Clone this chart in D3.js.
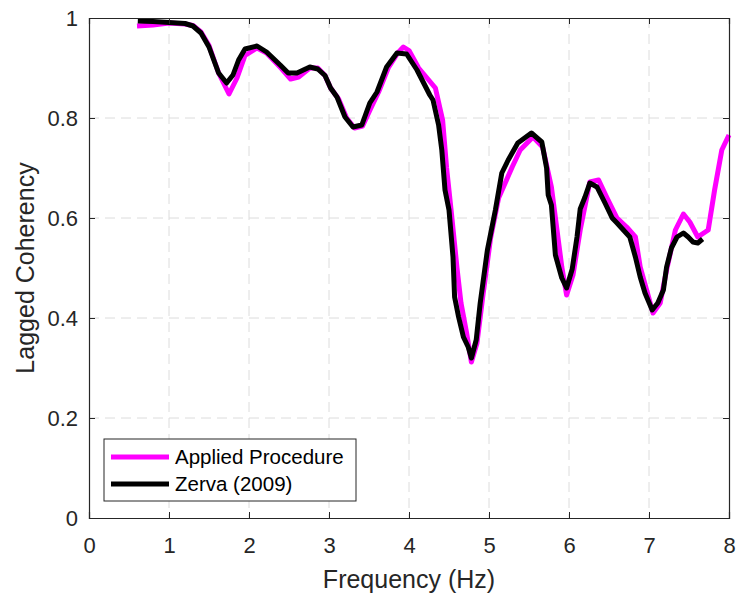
<!DOCTYPE html>
<html>
<head>
<meta charset="utf-8">
<script src="https://cdn.jsdelivr.net/npm/d3@7"></script>
<style>
  body { margin: 0; background: #fff; }
  svg { font-family: "Liberation Sans", Arial, sans-serif; }
</style>
</head>
<body>
<svg id="chart" width="739" height="597"></svg>
<script>
// Applied Procedure (magenta)
const appliedFreq = [0.6, 0.8, 1.0, 1.2, 1.3, 1.4, 1.5, 1.62, 1.75, 1.85, 1.95, 2.1, 2.22, 2.4, 2.52, 2.62, 2.76, 2.86, 2.95, 3.02,
    3.12, 3.22, 3.32, 3.42, 3.53, 3.62, 3.74, 3.86, 3.93, 4.0, 4.12, 4.33, 4.42, 4.47, 4.53, 4.6, 4.65, 4.72, 4.78, 4.85,
    4.92, 5.02, 5.12, 5.29, 5.39, 5.55, 5.67, 5.78, 5.85, 5.91, 5.97, 6.05, 6.14, 6.26, 6.37, 6.47, 6.6, 6.72, 6.83, 6.89,
    6.97, 7.05, 7.14, 7.22, 7.33, 7.43, 7.51, 7.61, 7.74, 7.82, 7.91, 8.0];
const appliedCoh = [0.984, 0.986, 0.99, 0.988, 0.985, 0.972, 0.945, 0.89, 0.848, 0.88, 0.925, 0.94, 0.93, 0.9, 0.878, 0.882, 0.9, 0.9, 0.885, 0.86,
    0.838, 0.8, 0.78, 0.784, 0.822, 0.852, 0.9, 0.93, 0.942, 0.935, 0.9, 0.86, 0.796, 0.7, 0.61, 0.5, 0.43, 0.37, 0.312, 0.35,
    0.44, 0.56, 0.64, 0.702, 0.736, 0.762, 0.742, 0.662, 0.576, 0.502, 0.446, 0.486, 0.576, 0.672, 0.676, 0.642, 0.6, 0.582, 0.562, 0.502,
    0.456, 0.41, 0.43, 0.496, 0.576, 0.608, 0.592, 0.562, 0.576, 0.656, 0.736, 0.766];

// Zerva (2009) (black)
const zervaFreq = [0.61, 0.8, 1.0, 1.2, 1.3, 1.4, 1.5, 1.62, 1.72, 1.8, 1.87, 1.95, 2.1, 2.22, 2.39, 2.49, 2.6, 2.76, 2.86, 2.95,
    3.02, 3.1, 3.2, 3.3, 3.41, 3.51, 3.6, 3.72, 3.85, 3.97, 4.1, 4.26, 4.3, 4.37, 4.41, 4.45, 4.5, 4.55, 4.57, 4.62,
    4.68, 4.74, 4.78, 4.84, 4.89, 4.98, 5.08, 5.16, 5.24, 5.36, 5.53, 5.66, 5.72, 5.74, 5.78, 5.83, 5.91, 5.97, 6.04, 6.1,
    6.14, 6.2, 6.26, 6.35, 6.45, 6.54, 6.6, 6.76, 6.83, 6.89, 6.95, 7.04, 7.11, 7.18, 7.22, 7.28, 7.35, 7.43, 7.49, 7.55,
    7.61, 7.67];
const zervaCoh = [0.994, 0.993, 0.991, 0.989, 0.984, 0.97, 0.942, 0.89, 0.87, 0.886, 0.916, 0.938, 0.944, 0.932, 0.906, 0.89, 0.89, 0.902, 0.898, 0.885,
    0.86, 0.842, 0.802, 0.782, 0.786, 0.83, 0.852, 0.902, 0.93, 0.928, 0.896, 0.846, 0.836, 0.786, 0.736, 0.656, 0.616, 0.522, 0.442, 0.402,
    0.362, 0.342, 0.32, 0.356, 0.43, 0.536, 0.616, 0.69, 0.716, 0.75, 0.77, 0.752, 0.7, 0.646, 0.626, 0.526, 0.48, 0.46, 0.498, 0.562,
    0.618, 0.642, 0.67, 0.662, 0.63, 0.6, 0.59, 0.562, 0.522, 0.482, 0.45, 0.416, 0.43, 0.456, 0.502, 0.54, 0.562, 0.57, 0.562, 0.552,
    0.55, 0.558];

const xTicks = [0, 1, 2, 3, 4, 5, 6, 7, 8];
const yTicks = [0, 0.2, 0.4, 0.6, 0.8, 1];
const seriesNames = ["Applied Procedure", "Zerva (2009)"];
const seriesColors = ["#ff00ff", "#000000"];

const svg = d3.select("#chart");
const margin = {left: 89, top: 18, right: 10, bottom: 79};
const W = 739 - margin.left - margin.right;
const H = 597 - margin.top - margin.bottom;
const axisColor = "#262626";

const x = d3.scaleLinear().domain([0, 8]).range([0, W]);
const y = d3.scaleLinear().domain([0, 1]).range([H, 0]);

const g = svg.append("g").attr("transform", `translate(${margin.left},${margin.top})`);

// grid
g.selectAll(".gx").data(xTicks.slice(1, -1)).enter().append("line")
    .attr("x1", d => x(d)).attr("x2", d => x(d)).attr("y1", 0).attr("y2", H)
    .attr("stroke", "#dcdcdc").attr("stroke-width", 1).attr("stroke-dasharray", "10,6");
g.selectAll(".gy").data(yTicks.slice(1, -1)).enter().append("line")
    .attr("y1", d => y(d)).attr("y2", d => y(d)).attr("x1", 0).attr("x2", W)
    .attr("stroke", "#dcdcdc").attr("stroke-width", 1).attr("stroke-dasharray", "10,6");

// lines
const line = d3.line().x(d => x(d[0])).y(d => y(d[1])).curve(d3.curveLinear);
const applied = appliedFreq.map((f, i) => [f, appliedCoh[i]]);
const zerva = zervaFreq.map((f, i) => [f, zervaCoh[i]]);
[applied, zerva].forEach((pts, i) => {
    g.append("path").datum(pts).attr("d", line)
        .attr("fill", "none").attr("stroke", seriesColors[i])
        .attr("stroke-width", 5).attr("stroke-linejoin", "round");
});

// axes
const xAxis = d3.axisBottom(x).tickValues(xTicks).tickSize(-6).tickPadding(19).tickFormat(d3.format("d"));
const yAxis = d3.axisLeft(y).tickValues(yTicks).tickSize(-6).tickPadding(11).tickFormat(d => d === 0 || d === 1 ? d : d3.format(".1f")(d));
const gx = g.append("g").attr("transform", `translate(0,${H})`).call(xAxis);
const gy = g.append("g").call(yAxis);
const gxTop = g.append("g").call(d3.axisTop(x).tickValues(xTicks).tickSize(-6).tickFormat(""));
const gyRight = g.append("g").attr("transform", `translate(${W},0)`).call(d3.axisRight(y).tickValues(yTicks).tickSize(-6).tickFormat(""));
[gx, gy, gxTop, gyRight].forEach(a => {
    a.select(".domain").attr("stroke", axisColor).attr("stroke-width", 1.2);
    a.selectAll(".tick line").attr("stroke", axisColor);
    a.selectAll("text").attr("fill", axisColor).style("font-size", "22px")
        .style("font-family", "'Liberation Sans', Arial, sans-serif");
});

// labels
svg.append("text").attr("x", margin.left + W / 2).attr("y", 588)
    .attr("text-anchor", "middle").attr("fill", axisColor).style("font-size", "25px")
    .text("Frequency (Hz)");
svg.append("text").attr("transform", `translate(34,${margin.top + H / 2}) rotate(-90)`)
    .attr("text-anchor", "middle").attr("fill", axisColor).style("font-size", "25px")
    .text("Lagged Coherency");

// legend
const lg = svg.append("g").attr("transform", "translate(104,439)");
lg.append("rect").attr("width", 252).attr("height", 62)
    .attr("fill", "#fff").attr("stroke", axisColor).attr("stroke-width", 1);
seriesNames.forEach((name, i) => {
    const yy = 18 + i * 27;
    lg.append("line").attr("x1", 7).attr("x2", 65).attr("y1", yy).attr("y2", yy)
        .attr("stroke", seriesColors[i]).attr("stroke-width", 5);
    lg.append("text").attr("x", 71).attr("y", yy + 7).attr("fill", "#000")
        .style("font-size", "20.5px").text(name);
});
</script>
</body>
</html>
